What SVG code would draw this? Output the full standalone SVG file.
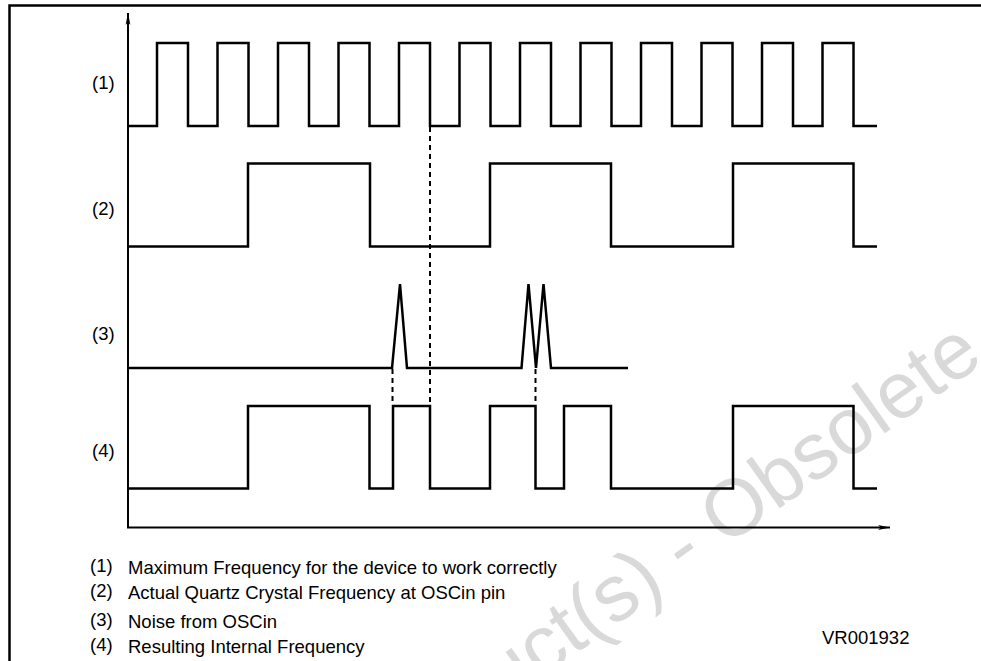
<svg xmlns="http://www.w3.org/2000/svg" width="981" height="661" viewBox="0 0 981 661">
<style>
.wave{fill:none;stroke:#000;stroke-width:2.5;stroke-linejoin:miter}
.axis{fill:none;stroke:#000;stroke-width:2}
.dash{fill:none;stroke:#000;stroke-width:2;stroke-dasharray:5 4}
.lbl{font-family:"Liberation Sans",Arial,sans-serif;font-size:18.5px;fill:#000}
.wm{font-family:"Liberation Sans",Arial,sans-serif;font-size:80px;fill:#d9d9d9}
</style>
<defs>
<marker id="arr" markerWidth="13" markerHeight="6" refX="12" refY="3" orient="auto" markerUnits="userSpaceOnUse">
<path d="M0,0.6 L12,3 L0,5.4 L3,3 Z" fill="#000"/>
</marker>
</defs>
<rect width="981" height="661" fill="#fff"/>
<g id="watermark">
<text class="wm" transform="translate(685,576) rotate(-35.5)" x="-391" y="0">Product(s) - Obsolete</text>
</g>
<g id="frame">
<path d="M9.5,661 V5.5 H981" fill="none" stroke="#000" stroke-width="2.5"/>
</g>
<g id="connectors">
<line class="axis" x1="128" y1="528" x2="128" y2="13" marker-end="url(#arr)"/>
<line class="axis" x1="127" y1="527.5" x2="890" y2="527.5" marker-end="url(#arr)"/>
<line class="dash" x1="430" y1="127" x2="430" y2="405"/>
<line class="dash" x1="392.5" y1="369" x2="392.5" y2="405"/>
<line class="dash" x1="535.5" y1="369" x2="535.5" y2="405"/>
</g>
<g id="wave1">
<path class="wave" d="M128,126 H157 V43 H188 V126 H217.5 V43 H248.5 V126 H278 V43 H309 V126 H338.5 V43 H369.5 V126 H399 V43 H430 V126 H459.5 V43 H490.5 V126 H520 V43 H551 V126 H580.5 V43 H611.5 V126 H641 V43 H672 V126 H701.5 V43 H732.5 V126 H762 V43 H793 V126 H822.5 V43 H853.5 V126 H877"/>
</g>
<g id="wave2">
<path class="wave" d="M128,246.5 H248 V163.5 H370 V246.5 H490 V163.5 H611 V246.5 H733 V163.5 H853.5 V246.5 H877"/>
</g>
<g id="wave3">
<path class="wave" d="M128,368 H392 L400,284 L407,368 H521.5 L528.5,284 L536,368 L543.5,284 L551,368 H628"/>
</g>
<g id="wave4">
<path class="wave" d="M128,488.5 H248 V406 H369.5 V488.5 H393 V406 H430 V488.5 H490 V406 H535.5 V488.5 H564 V406 H611 V488.5 H733 V406 H853.5 V488.5 H877"/>
</g>
<g id="labels">
<text class="lbl" x="92" y="89">(1)</text>
<text class="lbl" x="92" y="215">(2)</text>
<text class="lbl" x="92" y="340">(3)</text>
<text class="lbl" x="92" y="457">(4)</text>
</g>
<g id="legend">
<text class="lbl" x="90" y="572">(1)</text>
<text class="lbl" x="128" y="574">Maximum Frequency for the device to work correctly</text>
<text class="lbl" x="90" y="597">(2)</text>
<text class="lbl" x="128" y="599">Actual Quartz Crystal Frequency at OSCin pin</text>
<text class="lbl" x="90" y="626">(3)</text>
<text class="lbl" x="128" y="628">Noise from OSCin</text>
<text class="lbl" x="90" y="651">(4)</text>
<text class="lbl" x="128" y="653">Resulting Internal Frequency</text>
<text class="lbl" x="822" y="644">VR001932</text>
</g>
</svg>
